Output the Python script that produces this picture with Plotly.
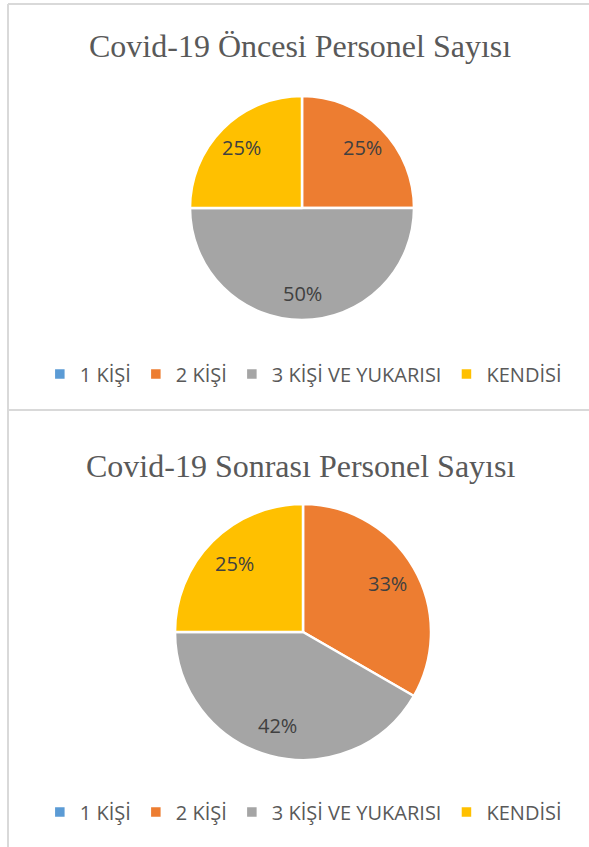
import math
import plotly.graph_objects as go

labels = ["1 KİŞİ", "2 KİŞİ", "3 KİŞİ VE YUKARISI", "KENDİSİ"]
before_values = [0, 1, 2, 1]
after_values = [0, 4, 5, 3]
titles = ["Covid-19 Öncesi Personel Sayısı", "Covid-19 Sonrası Personel Sayısı"]
colors = ["#5B9BD5", "#ED7D31", "#A5A5A5", "#FFC000"]

W, H = 589, 847


def px_x(x):
    return x / W


def px_y(y):
    return 1 - y / H


# pie geometry in pixels: (left, top, right, bottom)
pies = [
    dict(values=before_values, box=(190, 96, 414, 320), legend="legend", group="before",
         title_y=46, legend_y=374),
    dict(values=after_values, box=(175, 504, 431, 760), legend="legend2", group="after",
         title_y=466, legend_y=812),
]

fig = go.Figure()
annotations = []
for i, p in enumerate(pies):
    l, t, r, b = p["box"]
    vals = p["values"]
    fig.add_trace(go.Pie(
        labels=labels, values=vals, sort=False, direction="clockwise", rotation=0,
        marker=dict(colors=colors, line=dict(color="white", width=2.5)),
        textinfo="none",
        domain=dict(x=[px_x(l), px_x(r)], y=[px_y(b), px_y(t)]),
        legend=p["legend"], legendgroup=p["group"], hoverinfo="label+percent",
    ))
    # data labels, placed at each slice's mid-angle
    cx, cy, rad = (l + r) / 2, (t + b) / 2, (r - l) / 2
    total = sum(vals)
    cum = 0
    for v in vals:
        if v > 0:
            mid = 2 * math.pi * (cum + v / 2) / total
            fx = cx + 0.76 * rad * math.sin(mid)
            fy = cy - 0.76 * rad * math.cos(mid)
            annotations.append(dict(
                text=f"{round(100 * v / total)}%", x=px_x(fx), y=px_y(fy),
                xref="paper", yref="paper", showarrow=False,
                xanchor="center", yanchor="middle",
                font=dict(family="Open Sans", size=20, color="#404040")))
        cum += v
    annotations.append(dict(
        text=titles[i], x=0.51, y=px_y(p["title_y"]), xref="paper", yref="paper",
        showarrow=False, xanchor="center", yanchor="middle",
        font=dict(family="Liberation Serif", size=32, color="#595959")))

legend_common = dict(orientation="h", xanchor="center", x=0.515, yanchor="middle",
                     font=dict(family="Open Sans", size=20, color="#595959"),
                     bgcolor="rgba(0,0,0,0)", itemwidth=30, traceorder="normal")

line_col = "#D9D9D9"
fig.update_layout(
    width=W, height=H, margin=dict(l=0, r=0, t=0, b=0),
    paper_bgcolor="white", plot_bgcolor="white",
    legend=dict(y=px_y(pies[0]["legend_y"]), **legend_common),
    legend2=dict(y=px_y(pies[1]["legend_y"]), **legend_common),
    annotations=annotations,
    shapes=[
        dict(type="line", xref="paper", yref="paper", x0=px_x(8), x1=1, y0=px_y(4), y1=px_y(4),
             line=dict(color=line_col, width=2)),
        dict(type="line", xref="paper", yref="paper", x0=px_x(8), x1=px_x(8), y0=px_y(4), y1=0,
             line=dict(color=line_col, width=2)),
        dict(type="line", xref="paper", yref="paper", x0=px_x(8), x1=1, y0=px_y(410), y1=px_y(410),
             line=dict(color=line_col, width=2)),
    ],
)

fig.write_html("out.html", config={"displayModeBar": False},
               post_script="document.body.style.margin='0px';")
